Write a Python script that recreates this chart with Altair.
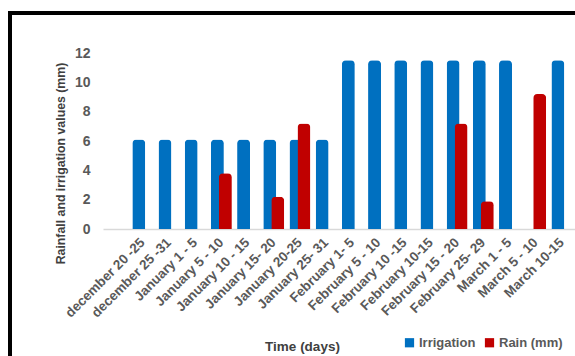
import altair as alt
import pandas as pd

# Ten-day periods of the season
periods = [
    "december 20 -25", "december 25 -31", "January 1 - 5", "January 5 - 10",
    "January 10 - 15", "January 15- 20", "January 20-25", "January 25- 31",
    "February 1- 5", "February 5 - 10", "February 10 -15", "February 10-15",
    "February 15 - 20", "February 25- 29", "March 1 - 5", "March 5 - 10",
    "March 10-15",
]
# Irrigation applied (mm); no irrigation in March 5 - 10
irrigation = [6.1, 6.1, 6.1, 6.1, 6.1, 6.1, 6.1, 6.1,
              11.5, 11.5, 11.5, 11.5, 11.5, 11.5, 11.5, None, 11.5]
# Rain (mm); None where no rain fell
rain = [None, None, None, 3.8, None, 2.2, 7.2, None,
        None, None, None, None, 7.2, 1.9, None, 9.2, None]

series_names = ["Irrigation", "Rain (mm)"]
series_colors = ["#0070C0", "#C00000"]

rows = []
for p, irr, rn in zip(periods, irrigation, rain):
    if irr is not None:
        rows.append({"period": p, "series": "Irrigation", "value": irr})
    if rn is not None:
        rows.append({"period": p, "series": "Rain (mm)", "value": rn})
df = pd.DataFrame(rows)

label_color = "#595959"
font = "Liberation Sans"

x_enc = alt.X(
    "period:N",
    sort=periods,
    scale=alt.Scale(domain=periods, paddingInner=0, paddingOuter=0.51, align=1),
    axis=alt.Axis(
        title="Time  (days)",
        titleFont=font, titleFontSize=13.5, titleFontWeight="bold", titleColor="#404040",
        titleX=199, titleY=117, titleAnchor="middle", titleAlign="center", titleBaseline="middle",
        labelAngle=-45, labelAlign="right", labelBaseline="middle", labelPadding=11,
        labelFont=font, labelFontSize=13.5, labelFontWeight="bold", labelColor=label_color,
        labelOverlap=False,
        ticks=False, domainColor="#D9D9D9", domainWidth=1.5, grid=False,
    ),
)
y_enc = alt.Y(
    "value:Q",
    scale=alt.Scale(domain=[0, 12], nice=False),
    axis=alt.Axis(
        title="Rainfall  and irrigation values (mm)",
        titleFont=font, titleFontSize=12.3, titleFontWeight="bold", titleColor="#404040",
        titleAngle=-90, titleX=-43, titleY=110, titleAlign="center", titleBaseline="middle",
        values=[0, 2, 4, 6, 8, 10, 12],
        labelFont=font, labelFontSize=14, labelFontWeight="bold", labelColor=label_color,
        labelPadding=13, ticks=False, domain=False, grid=False,
    ),
)
color_enc = alt.Color(
    "series:N",
    scale=alt.Scale(domain=series_names, range=series_colors),
    legend=alt.Legend(
        title=None, orient="none", legendX=300, legendY=283, direction="horizontal",
        symbolType="square", symbolSize=85, symbolStrokeWidth=0,
        labelFont=font, labelFontSize=13, labelFontWeight="bold", labelColor=label_color,
        labelOffset=3, columnPadding=7,
    ),
)

base = alt.Chart(df).encode(x=x_enc, y=y_enc, color=color_enc)

irr_bars = base.transform_filter(alt.datum.series == "Irrigation").mark_bar(
    size=13, xOffset=-4, cornerRadiusTopLeft=4, cornerRadiusTopRight=4
)
rain_bars = base.transform_filter(alt.datum.series == "Rain (mm)").mark_bar(
    size=13, xOffset=4, cornerRadiusTopLeft=4, cornerRadiusTopRight=4
)

# Black frame along the top and left edges of the figure
frame_df = pd.DataFrame({"k": [0]})
frame_top = alt.Chart(frame_df).mark_rule(color="black", strokeWidth=4).encode(
    x=alt.value(-95), x2=alt.value(500), y=alt.value(-40)
)
frame_left = alt.Chart(frame_df).mark_rule(color="black", strokeWidth=4).encode(
    x=alt.value(-93), y=alt.value(-42), y2=alt.value(400)
)

chart = alt.layer(irr_bars, rain_bars, frame_top, frame_left).properties(
    width=472, height=176,
    autosize=alt.AutoSizeParams(type="none"),
    padding={"left": 103, "top": 53, "right": 0, "bottom": 127},
    background="white",
).configure_view(stroke=None)

chart.save("out.html", embed_options={"renderer": "svg", "actions": False})
